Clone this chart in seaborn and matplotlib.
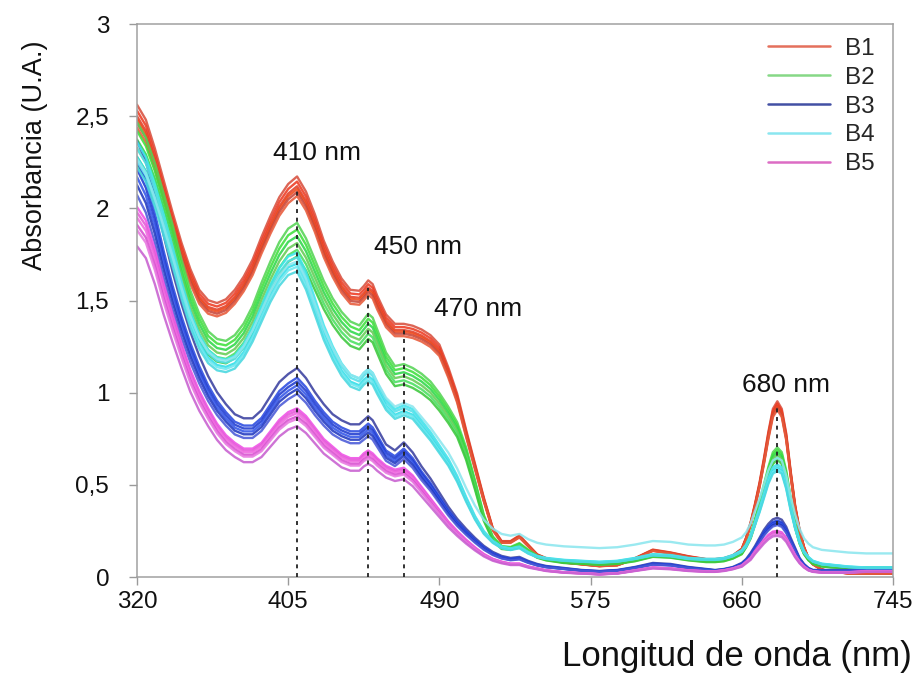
import matplotlib
matplotlib.use("Agg")
import matplotlib.pyplot as plt
from matplotlib.lines import Line2D
import numpy as np
import pandas as pd
import seaborn as sns

# Wavelength grid (nm), denser around the 450 nm and 680 nm bands
wavelength = [
    320, 325, 330, 335, 340, 345, 350, 355, 360, 365,
    370, 375, 380, 385, 390, 395, 400, 405, 410, 415,
    420, 425, 430, 435, 440, 445, 447.5, 450, 452.5, 455, 460, 465,
    470, 475, 480, 485, 490, 495, 500, 505, 510, 515,
    520, 525, 530, 535, 540, 545, 550,
    560, 570, 580, 590, 600, 610, 620, 630, 640,
    645, 650, 655, 660,
    662.5, 665, 667.5, 670, 672.5, 675, 677.5, 680,
    682.5, 685, 687.5, 690, 692.5, 695, 697.5, 700,
    705, 710, 720, 730, 745,
]

# Mean absorbance spectrum of each sample group
b1 = [
    2.50, 2.42, 2.27, 2.10, 1.93, 1.77, 1.63, 1.52, 1.465, 1.45,
    1.47, 1.52, 1.59, 1.68, 1.80, 1.91, 2.01, 2.08, 2.12, 2.04,
    1.92, 1.78, 1.67, 1.58, 1.52, 1.515, 1.54, 1.57, 1.55, 1.49, 1.39, 1.34,
    1.34, 1.33, 1.31, 1.28, 1.23, 1.11, 0.97, 0.78, 0.60, 0.42,
    0.26, 0.19, 0.19, 0.22, 0.17, 0.12, 0.10,
    0.08, 0.07, 0.06, 0.065, 0.10, 0.145, 0.13, 0.11, 0.095,
    0.095, 0.10, 0.115, 0.15,
    0.21, 0.29, 0.39, 0.50, 0.63, 0.77, 0.89, 0.93,
    0.89, 0.76, 0.56, 0.38, 0.25, 0.16, 0.10, 0.07,
    0.04, 0.03, 0.02, 0.02, 0.02,
]
b2 = [
    2.35, 2.27, 2.14, 1.98, 1.82, 1.64, 1.48, 1.36, 1.27, 1.23,
    1.22, 1.25, 1.31, 1.40, 1.52, 1.63, 1.73, 1.80, 1.83, 1.75,
    1.64, 1.53, 1.44, 1.37, 1.32, 1.30, 1.33, 1.36, 1.34, 1.28, 1.16, 1.09,
    1.10, 1.08, 1.05, 1.01, 0.95, 0.88, 0.80, 0.67, 0.50, 0.32,
    0.21, 0.16, 0.155, 0.175, 0.14, 0.11, 0.095,
    0.08, 0.075, 0.07, 0.075, 0.09, 0.115, 0.11, 0.095, 0.085,
    0.085, 0.09, 0.105, 0.13,
    0.17, 0.22, 0.30, 0.39, 0.48, 0.57, 0.645, 0.67,
    0.645, 0.55, 0.41, 0.28, 0.19, 0.13, 0.095, 0.075,
    0.06, 0.055, 0.05, 0.05, 0.05,
]
b3 = [
    2.17, 2.07, 1.90, 1.70, 1.52, 1.36, 1.22, 1.10, 1.00, 0.92,
    0.86, 0.81, 0.79, 0.79, 0.83, 0.90, 0.97, 1.01, 1.04, 0.99,
    0.92, 0.86, 0.81, 0.78, 0.76, 0.76, 0.78, 0.80, 0.78, 0.74, 0.66, 0.63,
    0.67, 0.62, 0.55, 0.49, 0.42, 0.35, 0.29, 0.24, 0.195, 0.155,
    0.125, 0.105, 0.095, 0.10, 0.08, 0.065, 0.055,
    0.045, 0.035, 0.03, 0.035, 0.05, 0.07, 0.065, 0.05, 0.04,
    0.035, 0.04, 0.05, 0.07,
    0.09, 0.12, 0.155, 0.195, 0.235, 0.265, 0.287, 0.295,
    0.285, 0.25, 0.195, 0.145, 0.095, 0.065, 0.045, 0.035,
    0.035, 0.035, 0.035, 0.04, 0.04,
]
b4 = [
    2.28, 2.20, 2.06, 1.90, 1.73, 1.55, 1.39, 1.27, 1.19, 1.15,
    1.14, 1.16, 1.22, 1.31, 1.42, 1.53, 1.62, 1.68, 1.70, 1.60,
    1.46, 1.32, 1.21, 1.12, 1.06, 1.04, 1.07, 1.09, 1.07, 1.02, 0.93, 0.88,
    0.90, 0.88, 0.82, 0.76, 0.69, 0.62, 0.53, 0.42, 0.32, 0.24,
    0.19, 0.16, 0.15, 0.16, 0.13, 0.11, 0.10,
    0.09, 0.085, 0.08, 0.085, 0.10, 0.12, 0.115, 0.10, 0.095,
    0.095, 0.10, 0.115, 0.14,
    0.17, 0.22, 0.29, 0.36, 0.44, 0.52, 0.575, 0.59,
    0.575, 0.49, 0.37, 0.27, 0.19, 0.135, 0.105, 0.085,
    0.07, 0.065, 0.055, 0.05, 0.05,
]
b5 = [
    1.93, 1.86, 1.71, 1.53, 1.37, 1.22, 1.08, 0.97, 0.88, 0.80,
    0.74, 0.70, 0.67, 0.67, 0.70, 0.76, 0.82, 0.86, 0.88, 0.84,
    0.78, 0.72, 0.68, 0.64, 0.62, 0.62, 0.645, 0.66, 0.645, 0.62, 0.58, 0.56,
    0.57, 0.53, 0.47, 0.41, 0.35, 0.29, 0.24, 0.195, 0.155, 0.12,
    0.095, 0.08, 0.07, 0.07, 0.055, 0.045, 0.035,
    0.025, 0.02, 0.015, 0.02, 0.035, 0.05, 0.045, 0.035, 0.03,
    0.03, 0.035, 0.045, 0.06,
    0.08, 0.10, 0.135, 0.165, 0.195, 0.22, 0.237, 0.24,
    0.233, 0.205, 0.16, 0.115, 0.08, 0.055, 0.038, 0.03,
    0.025, 0.025, 0.025, 0.03, 0.03,
]

groups = ["B1", "B2", "B3", "B4", "B5"]
group_spectra = {"B1": b1, "B2": b2, "B3": b3, "B4": b4, "B5": b5}

# Relative intensity and baseline shift of the six replicates per group
replicate_gain = {
    "B1": [1.025, 1.012, 1.0, 0.993, 0.985, 0.975],
    "B2": [1.05, 1.03, 1.01, 0.99, 0.97, 0.95],
    "B3": [1.09, 1.04, 1.02, 1.0, 0.98, 0.955],
    "B4": [1.035, 1.02, 1.0, 0.99, 0.975, 0.96],
    "B5": [1.04, 1.025, 1.01, 0.99, 0.975, 0.93],
}
replicate_offset = {
    "B1": [0, 0, 0, 0, 0, 0],
    "B2": [0, 0, 0, 0, 0, 0],
    "B3": [0, 0, 0, 0, 0, 0],
    "B4": [0, 0, 0, 0, 0, 0.08],
    "B5": [0, 0, 0, 0, 0, 0],
}
replicate_colors = {
    "B1": ["#d8503e", "#ef3b22", "#e0402a", "#f04a1c", "#c8463a", "#e85a3a"],
    "B2": ["#55d455", "#3ee03c", "#2fd84a", "#66cc55", "#49e060", "#3cc83c"],
    "B3": ["#3a40a0", "#2a4ae0", "#1f3bd0", "#3355e8", "#2038c0", "#4a5ad8"],
    "B4": ["#3ee6ee", "#55e0ea", "#30dde8", "#6ae8f0", "#48d8e0", "#8ce6ee"],
    "B5": ["#f050e6", "#e45ad8", "#f068e0", "#d84ed0", "#e878e0", "#c860d0"],
}
legend_colors = {"B1": "#e4705c", "B2": "#86d886", "B3": "#4350a4",
                 "B4": "#8ae6f0", "B5": "#dc6cc4"}

peak_nm = [410, 450, 470, 680]
peak_labels = ["410 nm", "450 nm", "470 nm", "680 nm"]
x_ticks = [320, 405, 490, 575, 660, 745]
y_ticks = [0, 0.5, 1, 1.5, 2, 2.5, 3]
y_tick_labels = ["0", "0,5", "1", "1,5", "2", "2,5", "3"]

# Long-form table: one row per wavelength and replicate trace
rows = []
for g in groups:
    base = np.array(group_spectra[g])
    for i, (gain, off) in enumerate(zip(replicate_gain[g], replicate_offset[g])):
        trace = f"{g}-{i + 1}"
        for wl, a in zip(wavelength, base * gain + off):
            rows.append((wl, a, g, trace))
df = pd.DataFrame(rows, columns=["wavelength", "absorbance", "group", "trace"])

palette = {f"{g}-{i + 1}": c for g in groups
           for i, c in enumerate(replicate_colors[g])}

sns.set_theme(style="ticks")
plt.rcParams["font.family"] = ["Liberation Sans", "DejaVu Sans"]

fig = plt.figure(figsize=(9.2, 6.77), dpi=100)
ax = fig.add_axes([0.1489, 0.1477, 0.8217, 0.8168])

sns.lineplot(data=df, x="wavelength", y="absorbance", hue="trace",
             palette=palette, estimator=None, sort=False, legend=False,
             linewidth=1.7, alpha=0.88, ax=ax)

# Dotted markers from the baseline up to the B1 mean at each band
b1_mean = df[df["group"] == "B1"].groupby("wavelength")["absorbance"].mean()
ax.vlines(peak_nm, 0, [b1_mean.loc[p] for p in peak_nm], colors="#222222",
          linestyles=(0, (2.2, 2.6)), linewidth=1.3, zorder=5)

label_pos = [(421, 2.30), (478, 1.79), (512, 1.455), (685, 1.04)]
for (lx, ly), txt in zip(label_pos, peak_labels):
    ax.text(lx, ly, txt, ha="center", va="center", fontsize=19, color="#111111")

ax.set_xlim(320, 745)
ax.set_ylim(0, 3)
ax.set_xticks(x_ticks)
ax.set_xticklabels([str(t) for t in x_ticks])
ax.set_yticks(y_ticks)
ax.set_yticklabels(y_tick_labels)
ax.set_xlabel("")
ax.set_ylabel("")
ax.tick_params(direction="out", length=6, width=1, color="#9a9a9a",
               labelsize=17.5, labelcolor="#111111")
ax.tick_params(axis="y", pad=14)
ax.tick_params(axis="x", pad=4)
for sp in ax.spines.values():
    sp.set_color("#a0a0a0")
    sp.set_linewidth(1.1)

handles = [Line2D([0], [0], color=legend_colors[g], lw=1.8) for g in groups]
ax.legend(handles, groups, loc="upper left", bbox_to_anchor=(0.835, 0.975),
          frameon=False, fontsize=17.5, handlelength=2.55, handletextpad=0.6,
          labelspacing=0.28, borderpad=0, borderaxespad=0)

fig.text(0.038, 0.77, "Absorbancia (U.A.)", rotation=90, ha="center",
         va="center", fontsize=19.5, color="#111111")
fig.text(0.991, 0.031, "Longitud de onda (nm)", ha="right", va="center",
         fontsize=25, color="#111111")

fig.savefig("out.png", dpi=100)
